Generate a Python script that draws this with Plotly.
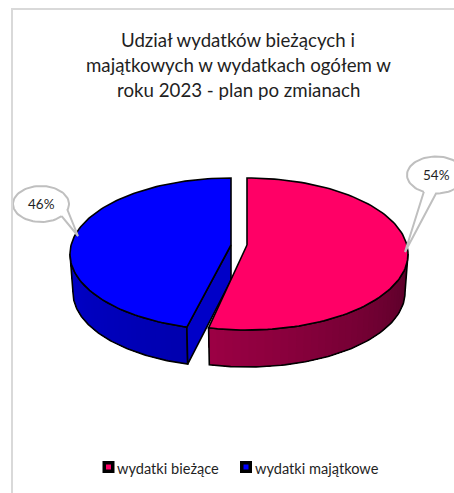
import numpy as np
import plotly.graph_objects as go

categories = ["wydatki bieżące", "wydatki majątkowe"]
shares = [54, 46]
title_lines = ["Udział wydatków bieżących i", "majątkowych w wydatkach ogółem w", "roku 2023 - plan po zmianach"]

FONT = "Lato, Carlito, Calibri, sans-serif"
INK = "#1f1f1f"
W, H = 454, 493
frac = shares[0] / sum(shares) * 360.0
frac_p = frac - 0.6   # small perspective correction of the drawn 3D slices
frac_b = frac + 1.5

def top(cx, t):
    r = np.radians(t)
    return cx + 161 * np.sin(r), 254 - 76 * np.cos(r)

def low(cx, t):
    r = np.radians(t)
    return cx + 158 * np.sin(r), 292.5 - 74.5 * np.cos(r)

def mix(c1, c2, f):
    return "rgb(%d,%d,%d)" % tuple(round(a + (b - a) * f) for a, b in zip(c1, c2))

fig = go.Figure()

def poly(x, y, fill=None, line=None, lw=1.6):
    fig.add_trace(go.Scatter(
        x=list(x), y=list(y), mode="lines", hoverinfo="skip", showlegend=False,
        fill="toself" if fill else None, fillcolor=fill,
        line=dict(color=line or "rgba(0,0,0,0)", width=lw if line else 0),
    ))

def wall(cx, t0, t1, c0, c1, n=36):
    edges = np.linspace(t0, t1, n + 1)
    for i in range(n):
        # each strip runs on to the far end so no seams show between strips
        ts = np.linspace(edges[i], t1, 60)
        xt, yt = top(cx, ts)
        xl, yl = low(cx, ts[::-1])
        poly(np.r_[xt, xl], np.r_[yt, yl], fill=mix(c0, c1, i / (n - 1)))
    ts = np.linspace(t0, t1, 80)
    xt, yt = top(cx, ts)
    xl, yl = low(cx, ts[::-1])
    poly(np.r_[xt, xl, xt[:1]], np.r_[yt, yl, yt[:1]], line="black")

# blue slice (second category)
cxb, cxp = 231, 247
ax_y, cut = 245, 35
wall(cxb, frac_b, 270, (0, 0, 175), (0, 0, 200))
xs, ys = top(cxb, frac_b)
xe, ye = low(cxb, frac_b)
poly([xs, cxb, cxb, xe, xs], [ys, ax_y, ax_y + cut, ye, ys], fill="#0000c8", line="black")
ts = np.linspace(frac_b, 360, 120)
xt, yt = top(cxb, ts)
poly(np.r_[cxb, xt, cxb], np.r_[ax_y, yt, ax_y], fill="#0000ff", line="black")

# pink slice (first category)
wall(cxp, 90, frac_p, (88, 0, 40), (155, 0, 68))
ts = np.linspace(0, frac_p, 120)
xt, yt = top(cxp, ts)
poly(np.r_[cxp, xt, cxp], np.r_[ax_y, yt, ax_y], fill="#ff0066", line="black")

# callouts
def callout(cx, cy, rx, ry, base, tip, label):
    a0 = np.arctan2((base[0][1] - cy) / ry, (base[0][0] - cx) / rx)
    a1 = np.arctan2((base[1][1] - cy) / ry, (base[1][0] - cx) / rx)
    if a1 < a0:
        a1 += 2 * np.pi
    a = np.linspace(a0, a1, 80)
    x = np.r_[cx + rx * np.cos(a), tip[0], cx + rx * np.cos(a[0])]
    y = np.r_[cy + ry * np.sin(a), tip[1], cy + ry * np.sin(a[0])]
    poly(x, y, fill="white", line="#bfbfbf", lw=2)
    fig.add_annotation(x=cx, y=cy, text=label, showarrow=False, xref="x", yref="y",
                       font=dict(family=FONT, size=13.5, color=INK))

callout(41, 204, 28, 18, [(63, 217), (68, 210)], (78, 236), f"{shares[1]}%")
callout(436, 175, 29, 18.5, [(423, 193), (436, 193)], (405, 252), f"{shares[0]}%")

# legend
colors = ["#ff0066", "#0000ff"]
leg_x = [108.5, 246]
for i, name in enumerate(categories):
    fig.add_trace(go.Scatter(
        x=[leg_x[i]], y=[467], mode="markers", hoverinfo="skip", showlegend=False,
        marker=dict(symbol="square", size=12, color="black", line=dict(width=0)),
    ))
    fig.add_trace(go.Scatter(
        x=[leg_x[i]], y=[467], mode="markers", hoverinfo="skip", showlegend=False,
        marker=dict(symbol="square", size=5, color=colors[i], line=dict(width=0)),
    ))
    fig.add_annotation(x=leg_x[i] + 6.5, y=468, text=name, showarrow=False, xanchor="left",
                       font=dict(family=FONT, size=14.6, color=INK))

for i, line in enumerate(title_lines):
    fig.add_annotation(x=238, y=40 + i * 25, text=line, showarrow=False,
                       font=dict(family=FONT, size=18.7, color=INK))

fig.update_layout(
    width=W, height=H, margin=dict(l=0, r=0, t=0, b=0),
    paper_bgcolor="white", plot_bgcolor="white", showlegend=False,
    xaxis=dict(range=[0, W], visible=False, fixedrange=True),
    yaxis=dict(range=[H, 0], visible=False, fixedrange=True),
    shapes=[
        dict(type="line", xref="x", yref="y", x0=12, x1=12, y0=8, y1=H, line=dict(color="#d9d9d9", width=2)),
        dict(type="line", xref="x", yref="y", x0=12, x1=W, y0=9, y1=9, line=dict(color="#d9d9d9", width=2)),
    ],
)
fig.write_html("out.html", config={"displayModeBar": False},
               post_script="document.body.style.margin='0';document.documentElement.style.overflow='hidden';")
